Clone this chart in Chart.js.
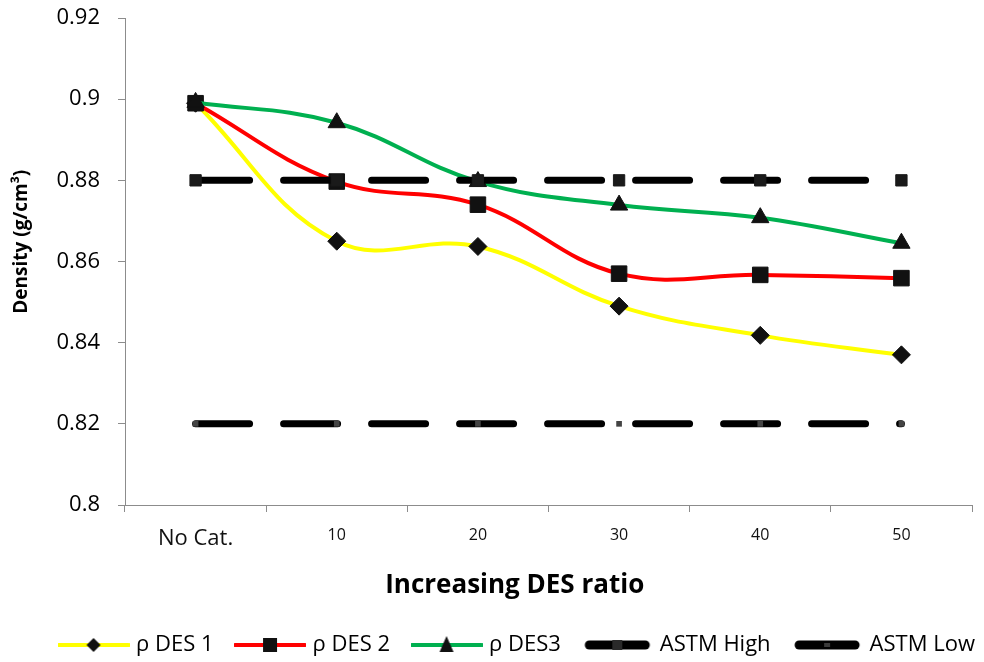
<!DOCTYPE html>
<html>
<head>
<meta charset="utf-8">
<script src="https://cdn.jsdelivr.net/npm/chart.js@4.4.0/dist/chart.umd.min.js"></script>
<style>
  html, body { margin:0; padding:0; background:#fff; }
  #wrap { width:984px; height:662px; position:relative; }
</style>
</head>
<body>
<div id="wrap"><canvas id="densityChart"></canvas></div>
<script>

// =============================
// DATA
// =============================

const categories = ["No Cat.", "10", "20", "30", "40", "50"];

const des1 = [0.899, 0.865, 0.8637, 0.849, 0.8418, 0.837];
const des2 = [0.899, 0.8797, 0.874, 0.857, 0.8567, 0.8559];
const des3 = [0.8992, 0.8942, 0.8797, 0.8739, 0.8708, 0.8645];
const astmHigh = [0.88, 0.88, 0.88, 0.88, 0.88, 0.88];
const astmLow = [0.82, 0.82, 0.82, 0.82, 0.82, 0.82];

const yTicks = [0.8, 0.82, 0.84, 0.86, 0.88, 0.9, 0.92];

const seriesNames = ["\u03c1 DES 1", "\u03c1 DES 2", "\u03c1 DES3", "ASTM High", "ASTM Low"];

const NB = "\u00a0";

// =============================
// LEGEND GLYPHS (line + marker)
// =============================

function legendGlyph(color, width, marker){

    const c = document.createElement("canvas");
    c.width = 72;
    c.height = 22;
    const g = c.getContext("2d");

    g.strokeStyle = color;
    g.lineWidth = width;
    g.lineCap = "round";
    g.beginPath();
    if(width > 5){
        g.moveTo(8, 11);
        g.lineTo(64, 11);
    } else {
        g.moveTo(1, 11);
        g.lineTo(71, 11);
    }
    g.stroke();

    g.fillStyle = "#111";
    g.beginPath();
    if(marker === "diamond"){
        g.moveTo(36, 4); g.lineTo(43, 11); g.lineTo(36, 18); g.lineTo(29, 11);
    } else if(marker === "square"){
        g.rect(29, 4, 14, 14);
    } else if(marker === "triangle"){
        g.moveTo(36, 2); g.lineTo(43, 18); g.lineTo(29, 18);
    } else if(marker === "small"){
        g.fillStyle = "#2a2a2a";
        g.rect(31, 6, 10, 10);
    } else if(marker === "tiny"){
        g.fillStyle = "#3a3a3a";
        g.rect(33, 9, 6, 4);
    }
    g.closePath();
    g.fill();

    return c;
}

const glyphs = [
    legendGlyph("#FFFF00", 4, "diamond"),
    legendGlyph("#FF0000", 4, "square"),
    legendGlyph("#00B050", 4, "triangle"),
    legendGlyph("#000000", 9, "small"),
    legendGlyph("#000000", 9, "tiny")
];

// legend sits a little right of centre in the original
const legendShift = {
    id: "legendShift",
    afterLayout(chart){
        if(!chart.legend) return;
        chart.legend.left += 30;
        chart.legend.right += 30;
    }
};

// =============================
// CHART
// =============================

const ctx = document.getElementById("densityChart").getContext("2d");

const fontMain = "'Open Sans', 'Noto Sans', sans-serif";

new Chart(ctx, {

    type: "line",

    plugins: [legendShift],

    data: {

        labels: categories,

        datasets: [
            {
                label: seriesNames[0],
                data: des1,
                borderColor: "#FFFF00",
                borderWidth: 4,
                tension: 0.4,
                pointStyle: "rectRot",
                pointRadius: 9,
                pointBackgroundColor: "#111",
                pointBorderColor: "#111",
                pointBorderWidth: 1,
                order: 4
            },
            {
                label: seriesNames[1],
                data: des2,
                borderColor: "#FF0000",
                borderWidth: 4,
                tension: 0.4,
                pointStyle: "rect",
                pointRadius: 11,
                pointBackgroundColor: "#111",
                pointBorderColor: "#111",
                pointBorderWidth: 1,
                order: 3
            },
            {
                label: seriesNames[2],
                data: des3,
                borderColor: "#00B050",
                borderWidth: 4,
                tension: 0.4,
                pointStyle: "triangle",
                pointRadius: 10,
                pointBackgroundColor: "#111",
                pointBorderColor: "#111",
                pointBorderWidth: 1,
                order: 2
            },
            {
                label: seriesNames[3],
                data: astmHigh,
                borderColor: "#000",
                borderWidth: 7,
                borderDash: [54, 34],
                borderCapStyle: "round",
                tension: 0,
                pointStyle: "rect",
                pointRadius: 8,
                pointBackgroundColor: "#1a1a1a",
                pointBorderColor: "#1a1a1a",
                pointBorderWidth: 1,
                order: 1
            },
            {
                label: seriesNames[4],
                data: astmLow,
                borderColor: "#000",
                borderWidth: 7,
                borderDash: [54, 34],
                borderCapStyle: "round",
                tension: 0,
                pointStyle: "rect",
                pointRadius: 4,
                pointBackgroundColor: "#444",
                pointBorderColor: "#444",
                pointBorderWidth: 0,
                order: 0
            }
        ]

    },

    options: {

        responsive: true,

        maintainAspectRatio: false,

        animation: false,

        layout: {
            padding: { left: 0, right: 7, top: 0, bottom: -4 }
        },

        plugins: {

            legend: {

                position: "bottom",

                labels: {
                    usePointStyle: true,
                    pointStyleWidth: 63,
                    boxHeight: 22,
                    padding: 25,
                    color: "#000",
                    font: { family: fontMain, size: 22 },
                    sort: (a, b) => a.datasetIndex - b.datasetIndex,
                    generateLabels: chart => chart.data.datasets.map((ds, i) => ({
                        text: ds.label,
                        datasetIndex: i,
                        pointStyle: glyphs[i],
                        fillStyle: ds.borderColor,
                        strokeStyle: ds.borderColor,
                        lineWidth: 0,
                        hidden: false,
                        fontColor: "#000"
                    }))
                }

            },

            tooltip: { enabled: false }

        },

        scales: {

            x: {

                offset: true,

                afterFit: axis => {
                    axis.height = 104;
                    axis.paddingLeft = 0;
                    axis.paddingRight = 0;
                },

                border: { color: "#8c8c8c", width: 1 },

                grid: {
                    offset: true,
                    drawOnChartArea: false,
                    tickLength: 7,
                    color: "#8c8c8c"
                },

                ticks: {
                    color: "#111",
                    padding: 14,
                    font: c => c.index === 0
                        ? { family: fontMain, size: 22 }
                        : { family: fontMain, size: 16 }
                },

                title: {
                    display: true,
                    text: "Increasing DES ratio" + NB.repeat(10),
                    color: "#000",
                    font: { family: fontMain, size: 26, weight: "bold" },
                    padding: { top: 4, bottom: 8 }
                }

            },

            y: {

                min: 0.8,

                max: 0.92,

                afterBuildTicks: axis => {
                    axis.ticks = yTicks.map(v => ({ value: v }));
                },

                afterFit: axis => {
                    axis.width = 125;
                    axis.paddingTop = 18;
                },

                border: { color: "#8c8c8c", width: 1 },

                grid: {
                    drawOnChartArea: false,
                    tickLength: 7,
                    color: "#8c8c8c"
                },

                ticks: {
                    color: "#000",
                    padding: 18,
                    font: { family: fontMain, size: 22 },
                    callback: v => String(Math.round(v * 100) / 100)
                },

                title: {
                    display: true,
                    text: NB.repeat(8) + "Density (g/cm\u00b3)",
                    color: "#000",
                    font: { family: fontMain, size: 19, weight: "bold" },
                    padding: { top: 10, bottom: 0 }
                }

            }

        }

    }

});

</script>
</body>
</html>
